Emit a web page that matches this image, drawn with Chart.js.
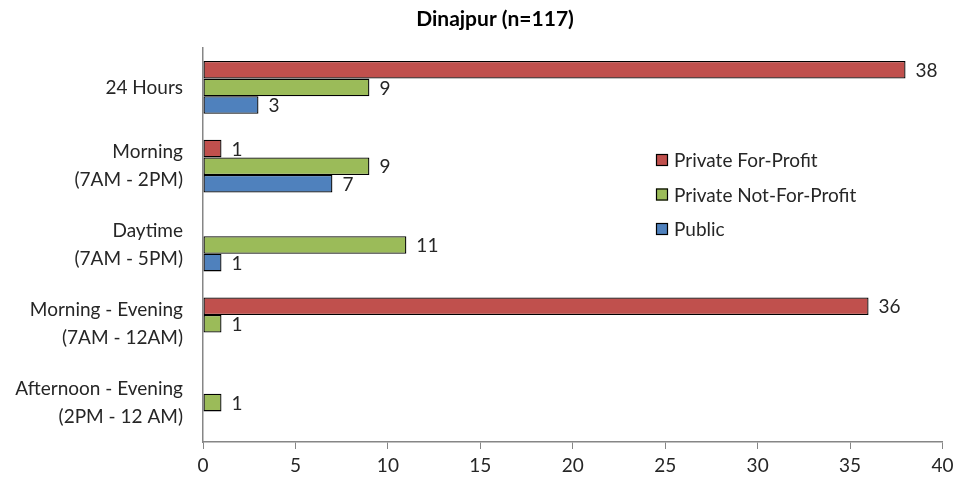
<!DOCTYPE html>
<html>
<head>
<meta charset="utf-8">
<script src="https://cdn.jsdelivr.net/npm/chart.js@4.4.0/dist/chart.umd.min.js"></script>
<style>
  html, body { margin: 0; padding: 0; background: #fff; }
  #wrap { width: 954px; height: 481px; }
</style>
</head>
<body>
<div id="wrap"><canvas id="chart"></canvas></div>
<script>
const categories = [
  [`24 Hours`],
  [`Morning`, `(7AM - 2PM)`],
  [`Daytime`, `(7AM - 5PM)`],
  [`Morning - Evening`, `(7AM - 12AM)`],
  [`Afternoon - Evening`, `(2PM - 12 AM)`],
]
const seriesNames = [`Private For-Profit`, `Private Not-For-Profit`, `Public`]
const forProfit = [38, 1, null, 36, null]
const notForProfit = [9, 9, 11, 1, 1]
const publicSector = [3, 7, 1, null, null]
const xTicks = [0, 5, 10, 15, 20, 25, 30, 35, 40]
const colors = [`#C0504D`, `#9BBB59`, `#4F81BD`]

const FONT = `Lato, "Open Sans", sans-serif`
const TEXT = `#262626`
const SIZE = 19

// value labels to the right of each bar
const valueLabels = {
  id: `valueLabels`,
  afterDatasetsDraw(chart) {
    const { ctx } = chart
    ctx.save()
    ctx.font = `${SIZE}px ${FONT}`
    ctx.fillStyle = TEXT
    ctx.textBaseline = `middle`
    ctx.textAlign = `left`
    chart.data.datasets.forEach((ds, i) => {
      chart.getDatasetMeta(i).data.forEach((bar, j) => {
        if (ds.data[j] == null) return
        ctx.fillText(String(ds.data[j]), bar.x + 10, bar.y + 1)
      })
    })
    ctx.restore()
  },
}

// legend sits inside the plot, right of center
const innerLegend = {
  id: `innerLegend`,
  afterDraw(chart) {
    const { ctx } = chart
    ctx.save()
    ctx.font = `${SIZE}px ${FONT}`
    ctx.textBaseline = `middle`
    seriesNames.forEach((name, i) => {
      const y = 160 + i * 34.5
      ctx.fillStyle = colors[i]
      ctx.fillRect(656, y - 6, 12, 12)
      ctx.strokeStyle = `#000`
      ctx.lineWidth = 1.2
      ctx.strokeRect(656.5, y - 5.5, 11, 11)
      ctx.fillStyle = TEXT
      ctx.fillText(name, 674, y + 1)
    })
    // title
    ctx.font = `bold 21px ${FONT}`
    ctx.textAlign = `center`
    ctx.fillStyle = `#000`
    ctx.fillText(`Dinajpur (n=117)`, 495, 19)
    ctx.restore()
  },
}

const datasets = [forProfit, notForProfit, publicSector].map((d, i) => ({
  label: seriesNames[i],
  data: d,
  backgroundColor: colors[i],
  borderColor: `#000`,
  borderWidth: 1.3,
  borderSkipped: false,
  categoryPercentage: 0.67,
  barPercentage: 1,
}))

new Chart(document.querySelector(`#chart`), {
  type: `bar`,
  data: { labels: categories, datasets },
  plugins: [valueLabels, innerLegend],
  options: {
    indexAxis: `y`,
    responsive: true,
    maintainAspectRatio: false,
    animation: false,
    layout: { padding: { top: 48, right: 11.5, bottom: 0, left: 0 } },
    scales: {
      x: {
        min: 0,
        max: 40,
        afterBuildTicks(axis) {
          axis.ticks = xTicks.map((v) => ({ value: v }))
        },
        afterFit(axis) {
          axis.height = 39
          axis.paddingLeft = 0
          axis.paddingRight = 0
        },
        grid: {
          drawOnChartArea: false,
          drawTicks: true,
          tickLength: 7,
          tickColor: `#868686`,
        },
        border: { color: `#868686`, width: 1.5 },
        ticks: {
          font: { family: FONT, size: SIZE },
          color: TEXT,
          padding: 5,
          maxRotation: 0,
        },
      },
      y: {
        afterFit(axis) {
          axis.width = 203
        },
        grid: { drawOnChartArea: false, drawTicks: false },
        border: { color: `#868686`, width: 1.5 },
        ticks: {
          font: { family: FONT, size: SIZE, lineHeight: `28px` },
          color: TEXT,
          padding: 20,
        },
      },
    },
    plugins: {
      legend: { display: false },
      title: { display: false },
      tooltip: { enabled: false },
    },
  },
})
</script>
</body>
</html>
